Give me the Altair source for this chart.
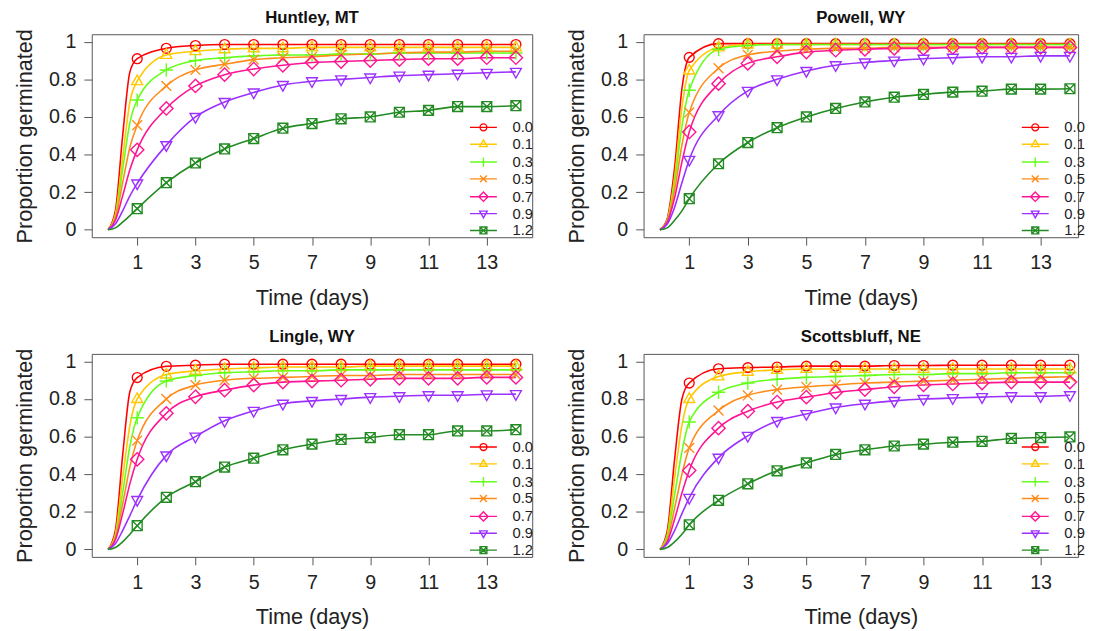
import altair as alt
import pandas as pd

FONT = "Liberation Sans"

CONC = ["0.0", "0.1", "0.3", "0.5", "0.7", "0.9", "1.2"]
COLORS = ["#FF0000", "#FFC800", "#66FF1A", "#FF8C1A", "#FF1493", "#9B30FF", "#228B22"]
DAYS = list(range(1, 15))
EARLY_T = [0.25, 0.5, 0.75]
X_TICKS = [1, 3, 5, 7, 9, 11, 13]
Y_TICKS = [0, 0.2, 0.4, 0.6, 0.8, 1]

# observed proportions at days 1..14
huntley_obs = {
    "0.0": [0.91, 0.965, 0.98, 0.985, 0.985, 0.985, 0.985, 0.985, 0.985, 0.985, 0.985, 0.985, 0.985, 0.985],
    "0.1": [0.79, 0.93, 0.95, 0.96, 0.965, 0.965, 0.97, 0.97, 0.97, 0.97, 0.97, 0.97, 0.97, 0.97],
    "0.3": [0.69, 0.85, 0.90, 0.915, 0.925, 0.93, 0.93, 0.935, 0.935, 0.94, 0.94, 0.94, 0.94, 0.94],
    "0.5": [0.556, 0.765, 0.85, 0.88, 0.905, 0.915, 0.92, 0.93, 0.935, 0.94, 0.945, 0.945, 0.95, 0.95],
    "0.7": [0.425, 0.645, 0.765, 0.825, 0.855, 0.875, 0.89, 0.895, 0.90, 0.905, 0.91, 0.91, 0.915, 0.915],
    "0.9": [0.246, 0.45, 0.60, 0.68, 0.73, 0.77, 0.79, 0.80, 0.81, 0.82, 0.825, 0.83, 0.835, 0.84],
    "1.2": [0.112, 0.25, 0.355, 0.43, 0.485, 0.54, 0.565, 0.59, 0.60, 0.625, 0.635, 0.655, 0.655, 0.66],
}
huntley_early = {
    "0.0": [0.10, 0.50, 0.84], "0.1": [0.08, 0.38, 0.68], "0.3": [0.07, 0.32, 0.57],
    "0.5": [0.06, 0.25, 0.44], "0.7": [0.05, 0.18, 0.32], "0.9": [0.03, 0.10, 0.18],
    "1.2": [0.01, 0.04, 0.075],
}

powell_obs = {
    "0.0": [0.917, 0.99, 0.99, 0.99, 0.99, 0.99, 0.99, 0.99, 0.99, 0.99, 0.99, 0.99, 0.99, 0.99],
    "0.1": [0.847, 0.97, 0.985, 0.985, 0.985, 0.985, 0.985, 0.985, 0.985, 0.985, 0.985, 0.985, 0.985, 0.985],
    "0.3": [0.742, 0.96, 0.98, 0.985, 0.985, 0.985, 0.985, 0.985, 0.985, 0.985, 0.985, 0.985, 0.985, 0.985],
    "0.5": [0.624, 0.859, 0.93, 0.95, 0.96, 0.965, 0.965, 0.97, 0.97, 0.97, 0.97, 0.97, 0.97, 0.97],
    "0.7": [0.52, 0.777, 0.885, 0.92, 0.945, 0.955, 0.96, 0.965, 0.965, 0.97, 0.97, 0.97, 0.97, 0.97],
    "0.9": [0.372, 0.609, 0.739, 0.80, 0.845, 0.875, 0.89, 0.90, 0.91, 0.915, 0.92, 0.92, 0.925, 0.925],
    "1.2": [0.165, 0.351, 0.464, 0.543, 0.60, 0.645, 0.68, 0.705, 0.72, 0.732, 0.737, 0.748, 0.748, 0.75],
}
powell_early = {
    "0.0": [0.06, 0.33, 0.75], "0.1": [0.05, 0.28, 0.65], "0.3": [0.05, 0.25, 0.55],
    "0.5": [0.045, 0.21, 0.45], "0.7": [0.04, 0.17, 0.36], "0.9": [0.03, 0.12, 0.25],
    "1.2": [0.01, 0.05, 0.10],
}

lingle_obs = {
    "0.0": [0.914, 0.974, 0.98, 0.985, 0.985, 0.985, 0.985, 0.985, 0.985, 0.985, 0.985, 0.985, 0.985, 0.985],
    "0.1": [0.80, 0.93, 0.95, 0.96, 0.965, 0.97, 0.97, 0.97, 0.975, 0.975, 0.975, 0.975, 0.975, 0.975],
    "0.3": [0.70, 0.896, 0.925, 0.94, 0.945, 0.95, 0.95, 0.955, 0.955, 0.955, 0.955, 0.955, 0.955, 0.955],
    "0.5": [0.579, 0.80, 0.874, 0.90, 0.91, 0.915, 0.92, 0.925, 0.925, 0.93, 0.93, 0.93, 0.93, 0.93],
    "0.7": [0.479, 0.724, 0.812, 0.847, 0.874, 0.89, 0.895, 0.90, 0.905, 0.91, 0.91, 0.91, 0.915, 0.915],
    "0.9": [0.263, 0.50, 0.60, 0.684, 0.737, 0.775, 0.79, 0.80, 0.81, 0.815, 0.82, 0.82, 0.825, 0.826],
    "1.2": [0.126, 0.277, 0.36, 0.438, 0.485, 0.53, 0.56, 0.585, 0.595, 0.61, 0.61, 0.63, 0.63, 0.637],
}
lingle_early = {
    "0.0": [0.10, 0.50, 0.84], "0.1": [0.08, 0.38, 0.66], "0.3": [0.07, 0.30, 0.55],
    "0.5": [0.06, 0.24, 0.44], "0.7": [0.05, 0.19, 0.35], "0.9": [0.03, 0.10, 0.18],
    "1.2": [0.01, 0.04, 0.08],
}

scottsbluff_obs = {
    "0.0": [0.885, 0.961, 0.967, 0.97, 0.975, 0.975, 0.975, 0.978, 0.978, 0.98, 0.98, 0.98, 0.98, 0.98],
    "0.1": [0.80, 0.92, 0.945, 0.955, 0.96, 0.96, 0.96, 0.96, 0.96, 0.96, 0.96, 0.96, 0.96, 0.96],
    "0.3": [0.678, 0.836, 0.885, 0.905, 0.915, 0.92, 0.925, 0.93, 0.93, 0.935, 0.935, 0.94, 0.94, 0.94],
    "0.5": [0.54, 0.739, 0.819, 0.85, 0.865, 0.875, 0.885, 0.89, 0.895, 0.90, 0.905, 0.91, 0.915, 0.918],
    "0.7": [0.42, 0.645, 0.735, 0.784, 0.81, 0.835, 0.85, 0.865, 0.875, 0.88, 0.885, 0.89, 0.89, 0.89],
    "0.9": [0.274, 0.488, 0.604, 0.683, 0.72, 0.755, 0.775, 0.79, 0.80, 0.805, 0.81, 0.815, 0.815, 0.82],
    "1.2": [0.131, 0.261, 0.349, 0.418, 0.46, 0.505, 0.53, 0.55, 0.56, 0.57, 0.575, 0.59, 0.595, 0.598],
}
scottsbluff_early = {
    "0.0": [0.10, 0.48, 0.80], "0.1": [0.08, 0.38, 0.66], "0.3": [0.07, 0.29, 0.52],
    "0.5": [0.05, 0.22, 0.40], "0.7": [0.04, 0.16, 0.30], "0.9": [0.03, 0.10, 0.19],
    "1.2": [0.01, 0.04, 0.08],
}

# marker glyphs (R pch 1,2,3,4,5,6,7)
CIRCLE = "M1,0A1,1,0,1,1,-1,0A1,1,0,1,1,1,0Z"
TRI_UP = "M0,-1.25L1.1,0.7L-1.1,0.7Z"
PLUS = "M-1.35,0L1.35,0M0,-1.35L0,1.35"
CROSS = "M-1,-1L1,1M-1,1L1,-1"
DIAMOND = "M0,-1.35L1.35,0L0,1.35L-1.35,0Z"
TRI_DOWN = "M0,1.25L1.1,-0.7L-1.1,-0.7Z"
SQ_X = "M-1,-1L1,-1L1,1L-1,1ZM-1,-1L1,1M-1,1L1,-1"
MARK_PATHS = [CIRCLE, TRI_UP, PLUS, CROSS, DIAMOND, TRI_DOWN, SQ_X]
LEGEND_PATHS = ["M-3.9,0L3.9,0" + p for p in MARK_PATHS]


def panel(title, obs, early, xmax, width):
    line_rows, pt_rows = [], []
    for c in CONC:
        line_rows.append({"t": 0.0, "p": 0.0, "conc": c})
        for t, v in zip(EARLY_T, early[c]):
            line_rows.append({"t": t, "p": v, "conc": c})
        for d, v in zip(DAYS, obs[c]):
            line_rows.append({"t": d, "p": v, "conc": c})
            pt_rows.append({"t": d, "p": v, "conc": c})
    line_df = pd.DataFrame(line_rows)
    pt_df = pd.DataFrame(pt_rows)

    x = alt.X("t:Q", scale=alt.Scale(domain=[-0.56, xmax], nice=False, zero=False),
              axis=alt.Axis(values=X_TICKS, title="Time (days)"))
    y = alt.Y("p:Q", scale=alt.Scale(domain=[-0.04, 1.04], nice=False, zero=False),
              axis=alt.Axis(values=Y_TICKS, format="~g", title="Proportion germinated"))
    cscale = alt.Scale(domain=CONC, range=COLORS)
    leg = alt.Legend(orient="none", legendX=390, legendY=87, title=None,
                     labelFontSize=15, labelFont=FONT, labelColor="#222",
                     symbolSize=49, symbolStrokeWidth=1.4, labelOffset=22,
                     rowPadding=1.1, padding=0, symbolOpacity=1)

    lines = alt.Chart(line_df).mark_line(strokeWidth=1.6, interpolate="monotone", clip=True).encode(
        x=x, y=y, color=alt.Color("conc:N", scale=cscale, legend=None))
    pts = alt.Chart(pt_df).mark_point(filled=False, size=100, strokeWidth=1.4, opacity=1, clip=True).encode(
        x=x, y=y,
        color=alt.Color("conc:N", scale=cscale, legend=None),
        shape=alt.Shape("conc:N", scale=alt.Scale(domain=CONC, range=MARK_PATHS), legend=None))
    dummy = alt.Chart(pt_df).mark_point(filled=False, size=49, strokeWidth=1.4, opacity=0).encode(
        x=x, y=y,
        color=alt.Color("conc:N", scale=cscale, legend=leg),
        shape=alt.Shape("conc:N", scale=alt.Scale(domain=CONC, range=LEGEND_PATHS), legend=leg))
    return alt.layer(lines, pts, dummy).resolve_scale(color="independent", shape="independent").properties(
        width=width, height=206,
        title=alt.TitleParams(title, fontSize=17, fontWeight="bold", font=FONT, offset=2,
                              anchor="middle", color="#111", frame="group"))


p1 = panel("Huntley, MT", huntley_obs, huntley_early, 14.56, 447)
p2 = panel("Powell, WY", powell_obs, powell_early, 14.28, 441)
p3 = panel("Lingle, WY", lingle_obs, lingle_early, 14.56, 447)
p4 = panel("Scottsbluff, NE", scottsbluff_obs, scottsbluff_early, 14.28, 441)

row1 = alt.hconcat(p1, p2, spacing=31).resolve_scale(color="independent", shape="independent")
row2 = alt.hconcat(p3, p4, spacing=31).resolve_scale(color="independent", shape="independent")

chart = alt.vconcat(row1, row2, spacing=18.4).resolve_scale(
    color="independent", shape="independent"
).properties(
    padding={"left": 5, "top": -5, "right": 0, "bottom": 0}
).configure(font=FONT).configure_view(
    stroke="#555", strokeWidth=1
).configure_axis(
    grid=False, domain=False, tickSize=8, tickColor="#555", tickWidth=1,
    labelFont=FONT, labelFontSize=20, labelColor="#222",
    titleFont=FONT, titleFontSize=22, titleFontWeight="normal", titleColor="#222"
).configure_axisX(
    labelPadding=8, titlePadding=15
).configure_axisY(
    labelPadding=8, titlePadding=12
)

chart.save("out.html", embed_options={"renderer": "svg", "actions": False})
